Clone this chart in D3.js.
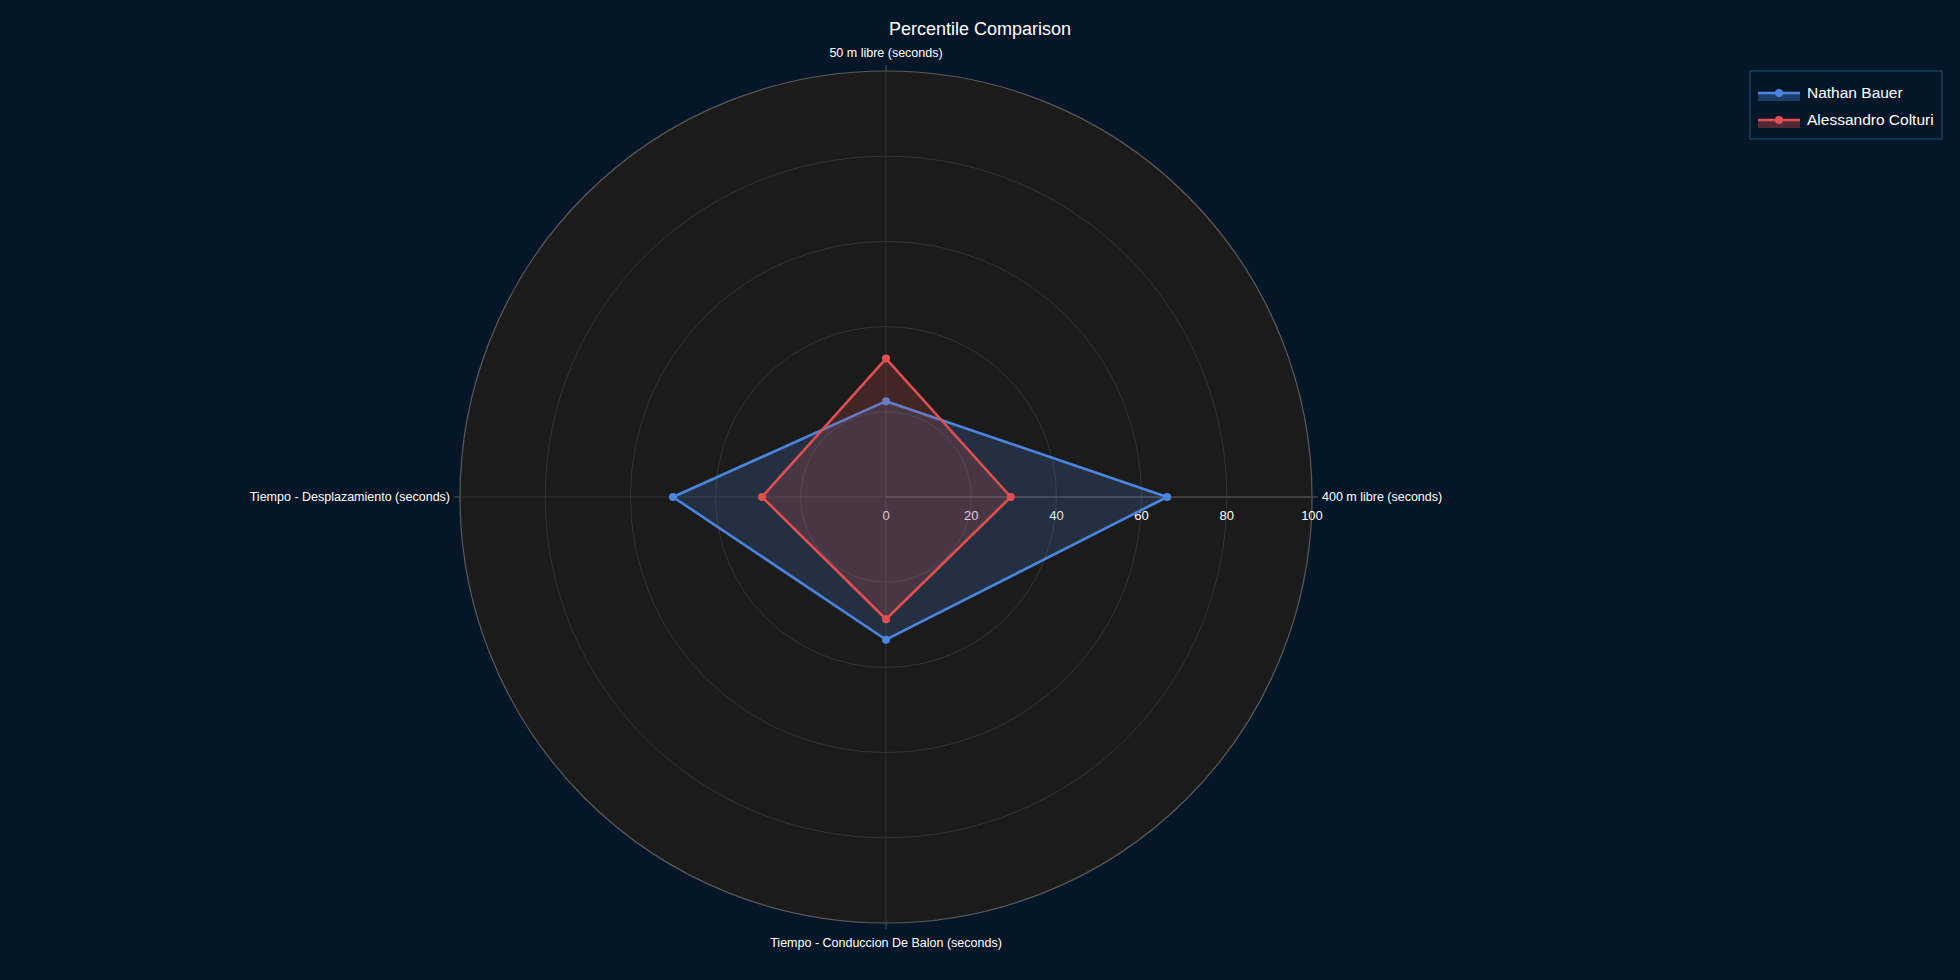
<!DOCTYPE html>
<html><head><meta charset="utf-8">
<script src="https://cdn.jsdelivr.net/npm/d3@7/dist/d3.min.js"></script>
<style>
html,body{margin:0;padding:0;background:#061629;}
svg{display:block;font-family:"Liberation Sans",Arial,sans-serif;}
</style></head><body>
<svg id="chart" width="1960" height="980"></svg>
<script>
const categories = ["50 m libre (seconds)", "400 m libre (seconds)", "Tiempo - Conduccion De Balon (seconds)", "Tiempo - Desplazamiento (seconds)"];
const seriesNames = ["Nathan Bauer", "Alessandro Colturi"];
const nathanValues = [22.5, 66, 33.5, 50];
const alessandroValues = [32.5, 29.3, 28.7, 29.1];
const radialTicks = [0, 20, 40, 60, 80, 100];
const seriesColors = ["#4a85de", "#e05050"];
const fillColors = ["rgba(74,133,222,0.2)", "rgba(224,80,80,0.2)"];

const svg = d3.select("#chart");
const W = 1960, H = 980;
const cx = 886, cy = 497, R = 426;

svg.append("rect").attr("width", W).attr("height", H).attr("fill", "#061629");

const r = d3.scaleLinear().domain([0, 100]).range([0, R]);
const ang = c => categories.indexOf(c) * 2 * Math.PI / categories.length;

const g = svg.append("g").attr("transform", `translate(${cx},${cy})`);

g.append("circle").attr("r", R).attr("fill", "#1b1b1b");

g.selectAll("circle.grid").data(radialTicks.filter(t => t > 0 && t < 100)).enter()
  .append("circle").attr("class", "grid").attr("r", d => r(d))
  .attr("fill", "none").attr("stroke", "#333333").attr("stroke-width", 1);

categories.forEach(c => {
  const a = ang(c);
  g.append("line").attr("x1", 0).attr("y1", 0)
    .attr("x2", R * Math.sin(a)).attr("y2", -R * Math.cos(a))
    .attr("stroke", "#333333").attr("stroke-width", 1);
  g.append("line")
    .attr("x1", R * Math.sin(a)).attr("y1", -R * Math.cos(a))
    .attr("x2", (R + 6) * Math.sin(a)).attr("y2", -(R + 6) * Math.cos(a))
    .attr("stroke", "#555555").attr("stroke-width", 1);
});

g.append("circle").attr("r", R).attr("fill", "none").attr("stroke", "#5a5a5a").attr("stroke-width", 1.2);

g.append("line").attr("x1", 0).attr("y1", 0).attr("x2", R).attr("y2", 0)
  .attr("stroke", "#4a4a4a").attr("stroke-width", 1.5);

g.selectAll("text.rt").data(radialTicks).enter().append("text")
  .attr("x", d => r(d)).attr("y", 23)
  .attr("text-anchor", "middle").attr("fill", "#ffffff").attr("font-size", 13)
  .text(d => d);

categories.forEach(c => {
  const a = ang(c);
  const s = Math.sin(a), co = Math.cos(a);
  const lr = R + 10;
  let x = lr * s, y = -lr * co, anchor = "middle", dy = "0.35em";
  if (Math.abs(s) > 0.5) { anchor = s > 0 ? "start" : "end"; }
  else if (co > 0) { y = -R - 14; dy = "0em"; }
  else { y = R + 14; dy = "0.8em"; }
  g.append("text").attr("x", x).attr("y", y).attr("dy", dy)
    .attr("text-anchor", anchor).attr("fill", "#ffffff").attr("font-size", 12.5)
    .text(c);
});

const allSeries = [nathanValues, alessandroValues];
const line = d3.lineRadial().angle((d, i) => i * 2 * Math.PI / categories.length).radius(d => r(d)).curve(d3.curveLinearClosed);

allSeries.forEach((vals, k) => {
  g.append("path").datum(vals).attr("d", line)
    .attr("fill", fillColors[k]).attr("stroke", seriesColors[k]).attr("stroke-width", 2.6)
    .attr("stroke-linejoin", "round");
  g.selectAll("circle.m" + k).data(vals).enter().append("circle")
    .attr("cx", (d, i) => r(d) * Math.sin(i * 2 * Math.PI / categories.length))
    .attr("cy", (d, i) => -r(d) * Math.cos(i * 2 * Math.PI / categories.length))
    .attr("r", 4).attr("fill", seriesColors[k]);
});

svg.append("text").attr("x", 980).attr("y", 35).attr("text-anchor", "middle")
  .attr("fill", "#ffffff").attr("font-size", 18).text("Percentile Comparison");

const lg = svg.append("g").attr("transform", "translate(1750,71)");
lg.append("rect").attr("width", 192).attr("height", 68)
  .attr("fill", "#061629").attr("stroke", "#1d4a6b").attr("stroke-width", 1.2);
seriesNames.forEach((n, k) => {
  const y = 22 + k * 27;
  lg.append("rect").attr("x", 8).attr("y", y).attr("width", 42).attr("height", 8).attr("fill", fillColors[k].replace("0.2", "0.35"));
  lg.append("line").attr("x1", 8).attr("x2", 50).attr("y1", y).attr("y2", y)
    .attr("stroke", seriesColors[k]).attr("stroke-width", 2.6);
  lg.append("circle").attr("cx", 29).attr("cy", y).attr("r", 4).attr("fill", seriesColors[k]);
  lg.append("text").attr("x", 57).attr("y", y).attr("dy", "0.35em")
    .attr("fill", "#ffffff").attr("font-size", 15.5).text(n);
});
</script>
</body></html>
